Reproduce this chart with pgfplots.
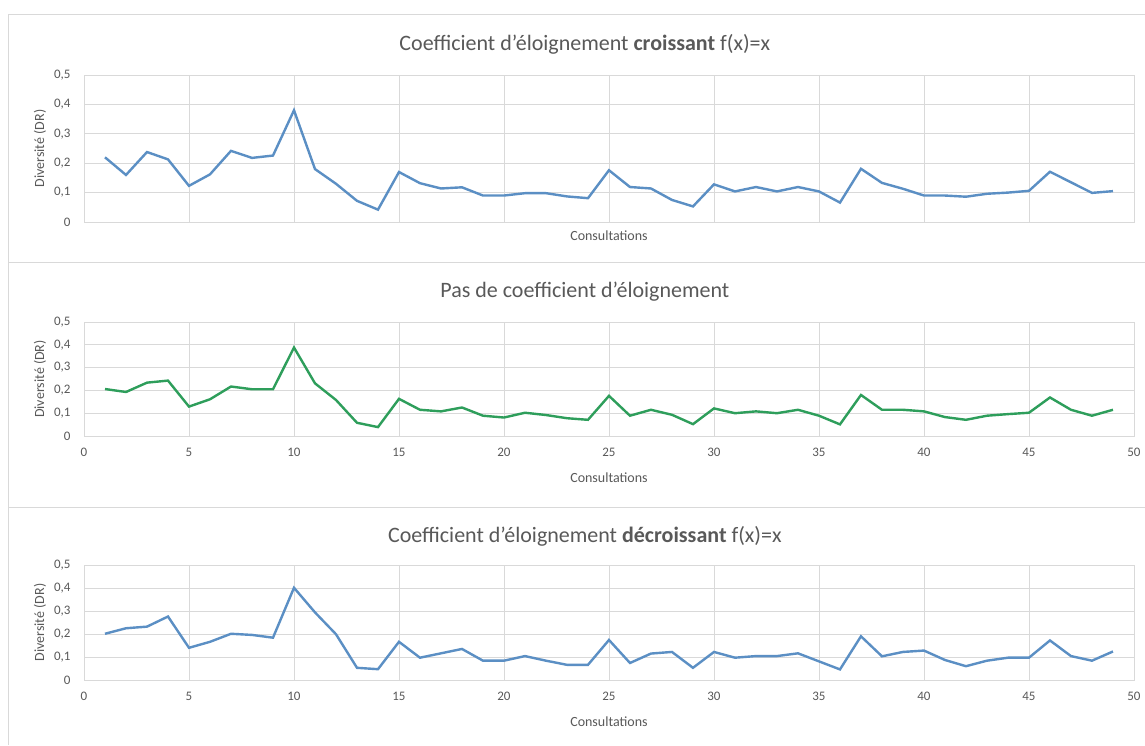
\documentclass[border=0pt]{standalone}
\usepackage{pgfplots}
\pgfplotsset{compat=1.18}
\usepackage{pgfplotstable}
\usepackage{fontspec}
\setmainfont{Carlito}
\definecolor{gridc}{HTML}{D9D9D9}
\definecolor{txtc}{HTML}{595959}
\definecolor{blueline}{HTML}{5B8FC4}
\definecolor{greenline}{HTML}{2E9E5B}

\pgfplotstableread{
x  a      b      c
1  0.220  0.206  0.201
2  0.160  0.193  0.225
3  0.238  0.234  0.232
4  0.213  0.243  0.276
5  0.123  0.129  0.140
6  0.162  0.161  0.166
7  0.242  0.217  0.201
8  0.218  0.205  0.196
9  0.226  0.205  0.184
10 0.380  0.388  0.401
11 0.180  0.231  0.294
12 0.130  0.158  0.199
13 0.072  0.058  0.053
14 0.042  0.039  0.047
15 0.170  0.163  0.166
16 0.132  0.115  0.097
17 0.114  0.108  0.116
18 0.118  0.125  0.135
19 0.090  0.089  0.084
20 0.090  0.081  0.084
21 0.098  0.102  0.104
22 0.098  0.092  0.084
23 0.087  0.078  0.066
24 0.081  0.071  0.066
25 0.176  0.176  0.174
26 0.119  0.089  0.074
27 0.114  0.115  0.115
28 0.075  0.093  0.122
29 0.053  0.052  0.053
30 0.128  0.121  0.122
31 0.104  0.100  0.097
32 0.119  0.108  0.104
33 0.104  0.100  0.104
34 0.119  0.115  0.116
35 0.104  0.089  0.081
36 0.066  0.051  0.046
37 0.181  0.180  0.190
38 0.133  0.115  0.103
39 0.113  0.115  0.122
40 0.090  0.108  0.128
41 0.090  0.083  0.087
42 0.086  0.071  0.060
43 0.096  0.089  0.084
44 0.100  0.096  0.097
45 0.106  0.102  0.097
46 0.171  0.169  0.172
47 0.135  0.115  0.104
48 0.099  0.089  0.084
49 0.105  0.115  0.124
}\data

\pgfplotsset{panel/.style={
  width=1050pt, scale only axis,
  xmin=0, xmax=50, ymin=0, ymax=0.5,
  xtick={0,5,...,50}, ytick={0,0.1,0.2,0.3,0.4,0.5},
  grid=major, major grid style={gridc, line width=0.9pt},
  axis line style={gridc, line width=0.9pt},
  major tick length=0pt,
  tick label style={font=\fontsize{13}{15}\selectfont, text=txtc},
  /pgf/number format/.cd, use comma, fixed, precision=1, assume math mode=true,
  /pgfplots/.cd,
  yticklabel style={xshift=-10pt},
  xticklabel style={yshift=-9pt},
  xlabel={Consultations}, ylabel={Diversité (DR)},
  label style={font=\fontsize{14}{16}\selectfont, text=txtc},
  title style={font=\fontsize{22}{26}\selectfont, text=txtc, anchor=center},
  ylabel style={anchor=center},
  xlabel style={anchor=center},
  clip=false,
}}

\begin{document}
\begin{tikzpicture}
\useasboundingbox (0pt,0pt) rectangle (1145pt,745pt);
\fill[white] (0pt,0pt) rectangle (1145pt,745pt);
\draw[gridc, line width=1pt] (8pt,0pt) -- (8pt,730pt) -- (1145pt,730pt);
\draw[gridc, line width=1pt] (8pt,482pt) -- (1145pt,482pt);
\draw[gridc, line width=1pt] (8pt,238pt) -- (1145pt,238pt);

\begin{axis}[panel, at={(84pt,523pt)}, anchor=south west, height=147pt,
  xticklabels={},
  title={Coefficient d'éloignement \textbf{croissant} f(x)=x},
  title style={at={(axis description cs:0.477,1.17)}},
  ylabel style={at={(axis description cs:-0.042,0.5)}},
  xlabel style={at={(axis description cs:0.5,-0.095)}}]
\addplot[blueline, line width=2.4pt] table[x=x, y=a] {\data};
\end{axis}

\begin{axis}[panel, at={(84pt,309pt)}, anchor=south west, height=114pt,
  title={Pas de coefficient d'éloignement},
  title style={at={(axis description cs:0.477,1.21)}},
  ylabel style={at={(axis description cs:-0.042,0.5)}},
  xlabel style={at={(axis description cs:0.5,-0.37)}}]
\addplot[greenline, line width=2.4pt] table[x=x, y=b] {\data};
\end{axis}

\begin{axis}[panel, at={(84pt,65pt)}, anchor=south west, height=115pt,
  title={Coefficient d'éloignement \textbf{décroissant} f(x)=x},
  title style={at={(axis description cs:0.477,1.2)}},
  ylabel style={at={(axis description cs:-0.042,0.5)}},
  xlabel style={at={(axis description cs:0.5,-0.365)}}]
\addplot[blueline, line width=2.4pt] table[x=x, y=c] {\data};
\end{axis}
\end{tikzpicture}
\end{document}
